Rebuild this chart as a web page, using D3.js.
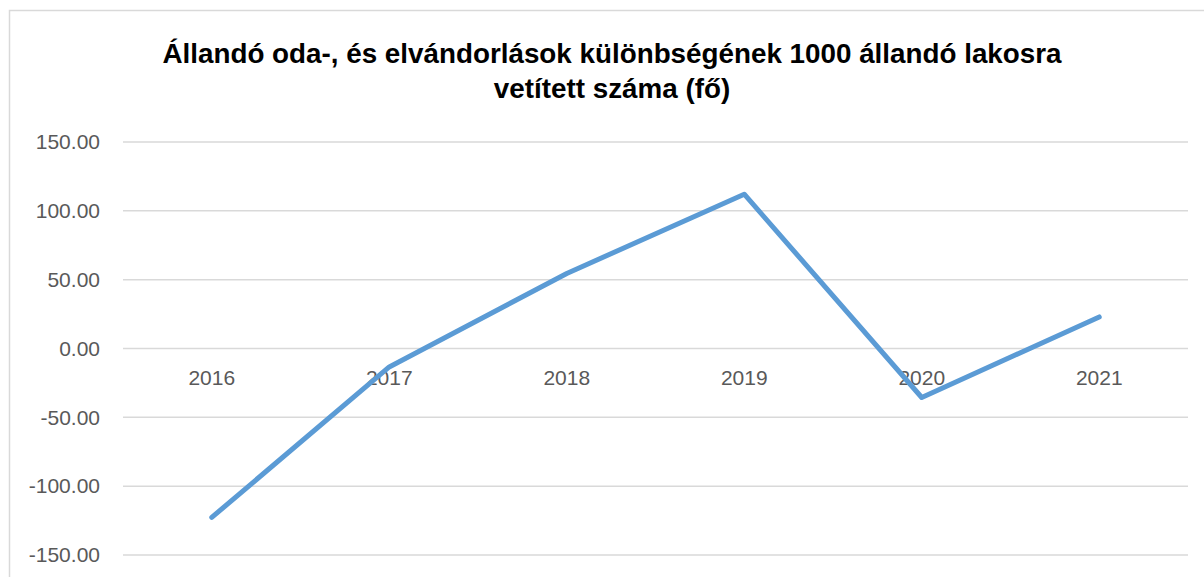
<!DOCTYPE html>
<html>
<head>
<meta charset="UTF-8">
<title>Állandó oda-, és elvándorlások különbsége</title>
<script src="https://cdnjs.cloudflare.com/ajax/libs/d3/7.8.5/d3.min.js"></script>
<style>
  body { margin: 0; background: #fff; }
  svg text { font-family: "Liberation Sans", "DejaVu Sans", sans-serif; }
  .title { font-weight: bold; fill: #000; }
  .tick-label { fill: #595959; }
</style>
</head>
<body>
<script>
// data
var years = ["2016", "2017", "2018", "2019", "2020", "2021"];
var values = [-122.7, -13.4, 54.5, 112.1, -35.6, 22.9];
var yTicks = [-150, -100, -50, 0, 50, 100, 150];
var titleLines = ["Állandó oda-, és elvándorlások különbségének 1000 állandó lakosra", "vetített száma (fő)"];

var W = 1204, H = 577;
var margin = {top: 142, right: 16, bottom: 22, left: 123},
    width = W - margin.left - margin.right,
    height = H - margin.top - margin.bottom;

var svg = d3.select("body").append("svg")
    .attr("width", W)
    .attr("height", H);

// chart frame
svg.append("rect")
    .attr("x", 9.5).attr("y", 10.5)
    .attr("width", W + 20).attr("height", H + 20)
    .attr("fill", "none")
    .attr("stroke", "#d9d9d9")
    .attr("stroke-width", 1.5);

// title
svg.selectAll(".title")
    .data(titleLines)
  .enter().append("text")
    .attr("class", "title")
    .attr("x", 612)
    .attr("y", function(d, i) { return 63 + i * 35; })
    .attr("text-anchor", "middle")
    .style("font-size", "27.8px")
    .text(function(d) { return d; });

var g = svg.append("g")
    .attr("transform", "translate(" + margin.left + "," + margin.top + ")");

var x = d3.scaleBand().domain(years).range([0, width]);
var y = d3.scaleLinear().domain([-150, 150]).range([height, 0]);

// gridlines
g.selectAll(".grid")
    .data(yTicks)
  .enter().append("line")
    .attr("x1", 0).attr("x2", width)
    .attr("y1", function(d) { return y(d); })
    .attr("y2", function(d) { return y(d); })
    .attr("stroke", "#d9d9d9")
    .attr("stroke-width", 1.5);

// y axis labels (plain hyphen for negatives, like the original)
var fmt = function(d) { return d.toFixed(2); };
var yAxis = g.append("g")
    .attr("font-family", null)
    .call(d3.axisLeft(y).tickValues(yTicks).tickFormat(fmt).tickSize(0).tickPadding(23));
yAxis.select(".domain").remove();
yAxis.selectAll("text")
    .attr("class", "tick-label")
    .style("font-size", "21px")
    .attr("fill", "#595959");

// x axis labels sit under the zero line
var xAxis = g.append("g")
    .attr("transform", "translate(0," + y(0) + ")")
    .call(d3.axisBottom(x).tickSize(0).tickPadding(22));
xAxis.attr("font-family", null);
yAxis.attr("font-family", null);
xAxis.select(".domain").remove();
xAxis.selectAll("text")
    .attr("class", "tick-label")
    .style("font-size", "21px")
    .attr("fill", "#595959");

// line
var line = d3.line()
    .x(function(d, i) { return x(years[i]) + x.bandwidth() / 2; })
    .y(function(d) { return y(d); });

g.append("path")
    .datum(values)
    .attr("d", line)
    .attr("fill", "none")
    .attr("stroke", "#5b9bd5")
    .attr("stroke-width", 5)
    .attr("stroke-linecap", "round")
    .attr("stroke-linejoin", "round");
</script>
</body>
</html>
